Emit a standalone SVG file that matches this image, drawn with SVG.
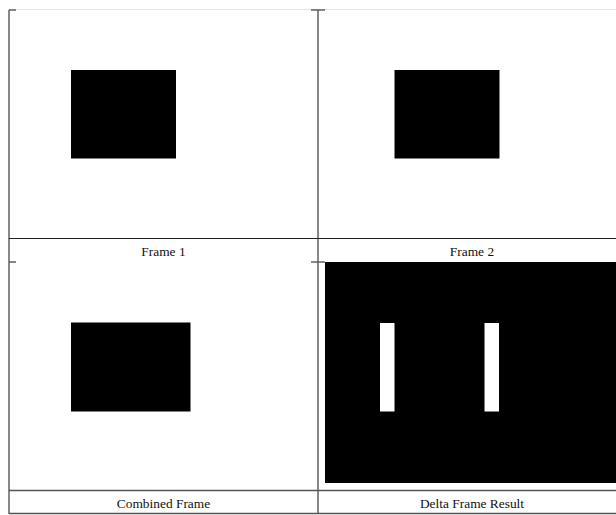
<svg xmlns="http://www.w3.org/2000/svg" width="616" height="515" viewBox="0 0 616 515">
<style>
.lbl{font-family:"Liberation Serif","DejaVu Serif",serif;font-size:13.4px;fill:#111;text-anchor:middle}
.grid{stroke:#555;stroke-width:1.4;fill:none}
.dark{stroke:#222;stroke-width:1.2;fill:none}
.light{stroke:#e4e4e4;stroke-width:1;fill:none}
</style>
<rect width="616" height="515" fill="#fff"/>
<g id="table">
<line class="light" x1="9" y1="9.5" x2="616" y2="9.5"/>
<line class="grid" x1="9" y1="10" x2="9" y2="514"/>
<line class="grid" x1="318" y1="10" x2="318" y2="514"/>
<line class="dark" x1="9" y1="238.5" x2="616" y2="238.5"/>
<line class="grid" x1="9" y1="490.5" x2="616" y2="490.5"/>
<line class="grid" x1="9" y1="513.5" x2="616" y2="513.5"/>
<line class="grid" x1="9" y1="10" x2="16" y2="10"/>
<line class="grid" x1="311" y1="10" x2="325" y2="10"/>
<line class="grid" x1="9" y1="262" x2="16" y2="262"/>
<line class="grid" x1="311" y1="262" x2="325" y2="262"/>
</g>
<g id="frame1">
<rect x="71" y="70" width="105" height="88.5" fill="#000"/>
<text class="lbl" x="163.5" y="255.5">Frame 1</text>
</g>
<g id="frame2">
<rect x="394.5" y="70" width="105" height="88.5" fill="#000"/>
<text class="lbl" x="472" y="255.5">Frame 2</text>
</g>
<g id="combined">
<rect x="71" y="322.5" width="119.5" height="89" fill="#000"/>
<text class="lbl" x="163.5" y="507.5">Combined Frame</text>
</g>
<g id="delta">
<rect x="325" y="262" width="291" height="221" fill="#000"/>
<rect x="380" y="323" width="14.5" height="88.5" fill="#fff"/>
<rect x="484.5" y="323" width="14.5" height="88.5" fill="#fff"/>
<text class="lbl" x="472" y="507.5">Delta Frame Result</text>
</g>
<g id="connectors"/>
</svg>
